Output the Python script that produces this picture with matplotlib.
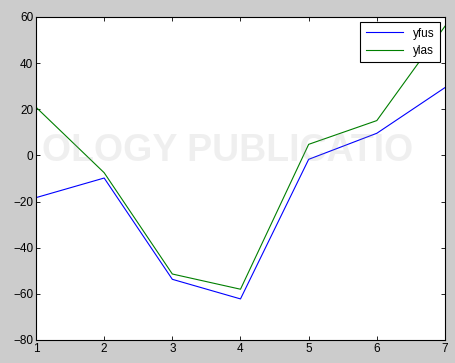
import matplotlib
matplotlib.use("Agg")
import matplotlib.pyplot as plt

# sample index and the two estimated series
steps = [1, 2, 3, 4, 5, 6, 7]
yfus = [-18.3, -9.8, -53.7, -62.2, -1.7, 9.6, 29.4]
ylas = [20.9, -7.5, -51.4, -58.0, 4.8, 15.1, 56.0]

plt.rcParams['font.family'] = ['Liberation Sans', 'DejaVu Sans']
plt.rcParams['font.size'] = 8.5

fig = plt.figure(figsize=(4.55, 3.63), dpi=100, facecolor='#cccccc')
ax = fig.add_axes([0.0791, 0.0634, 0.8989, 0.8898])
ax.set_facecolor('white')

ax.plot(steps, yfus, color='#0000ff', linewidth=0.8, label='yfus')
ax.plot(steps, ylas, color='#007f00', linewidth=0.8, label='ylas')

ax.set_xlim(1, 7)
ax.set_ylim(-80, 60)
ax.set_xticks(range(1, 8))
ax.set_yticks(range(-80, 61, 20))
ax.tick_params(direction='in', length=3, width=0.6, top=True, right=True,
               colors='black', pad=2)
for sp in ax.spines.values():
    sp.set_linewidth(0.8)

leg = ax.legend(loc='upper right', fancybox=False, framealpha=1,
                edgecolor='black', handlelength=3.2, borderpad=0.45,
                labelspacing=0.45, borderaxespad=0.45, fontsize=8.5)
leg.get_frame().set_linewidth(0.8)

# faint publisher watermark across the middle
fig.text(0.5, 0.585, 'OLOGY PUBLICATIO', ha='center', va='center',
         fontsize=27, fontweight='bold', color='#999999', alpha=0.15, zorder=10)

fig.savefig('out.png', dpi=100, facecolor=fig.get_facecolor())
